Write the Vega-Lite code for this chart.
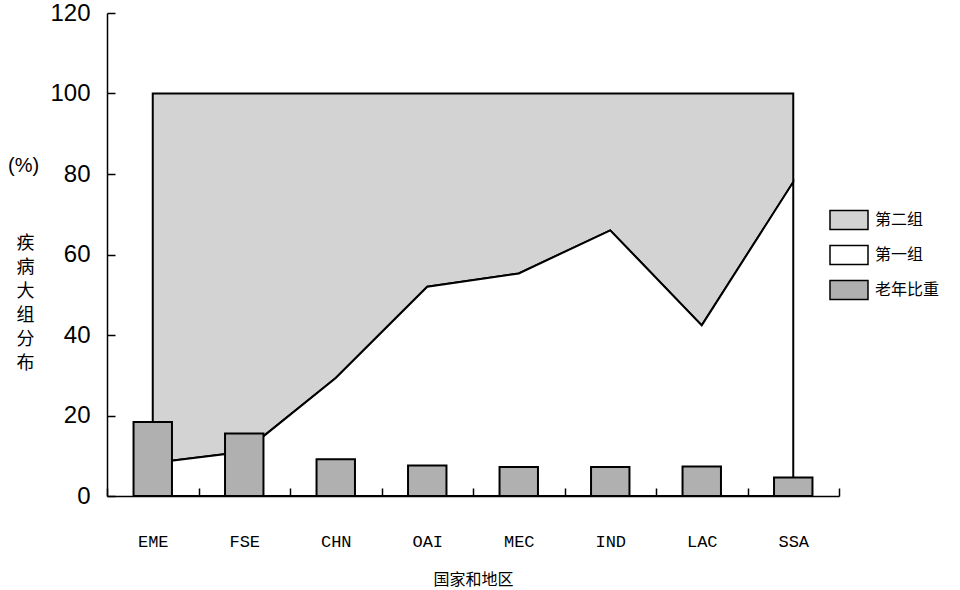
{
  "$schema": "https://vega.github.io/schema/vega-lite/v6.json",
  "width": 732,
  "height": 483,
  "autosize": {"type": "none"},
  "padding": {"left": 107, "top": 13, "right": 121, "bottom": 94},
  "background": "white",
  "title": {
    "text": "(%)",
    "anchor": "start",
    "frame": "group",
    "align": "left",
    "baseline": "alphabetic",
    "dx": -99,
    "dy": 195,
    "font": "Liberation Sans",
    "fontSize": 20,
    "fontWeight": "normal",
    "color": "black"
  },
  "config": {
    "view": {"stroke": null},
    "font": "Liberation Sans"
  },
  "data": {
    "values": [
      {"region": "EME", "old": 18.4, "g1": 8.2, "top": 100},
      {"region": "FSE", "old": 15.5, "g1": 11.0, "top": 100},
      {"region": "CHN", "old": 9.1, "g1": 29.3, "top": 100},
      {"region": "OAI", "old": 7.6, "g1": 52.0, "top": 100},
      {"region": "MEC", "old": 7.2, "g1": 55.3, "top": 100},
      {"region": "IND", "old": 7.2, "g1": 66.0, "top": 100},
      {"region": "LAC", "old": 7.3, "g1": 42.4, "top": 100},
      {"region": "SSA", "old": 4.6, "g1": 78.0, "top": 100}
    ]
  },
  "encoding": {
    "x": {
      "field": "region",
      "type": "nominal",
      "sort": null,
      "scale": {"type": "band", "paddingInner": 0, "paddingOuter": 0},
      "axis": {
        "title": "国家和地区",
        "titleFont": "Noto Sans CJK SC",
        "titleFontSize": 16,
        "titleFontWeight": "normal",
        "titleColor": "black",
        "titlePadding": 22,
        "labelAngle": 0,
        "labelFont": "Liberation Mono",
        "labelFontSize": 17,
        "labelColor": "black",
        "labelPadding": 45,
        "tickBand": "extent",
        "tickSize": -8,
        "tickColor": "black",
        "tickWidth": 1.5,
        "domainColor": "black",
        "domainWidth": 1.5,
        "grid": false,
        "zindex": 1
      }
    }
  },
  "layer": [
    {
      "mark": {"type": "area", "stroke": "black", "strokeWidth": 2, "opacity": 1, "fillOpacity": 1},
      "encoding": {
        "x": {"field": "region", "type": "nominal", "sort": null, "bandPosition": 0.5},
        "y": {
          "field": "g1",
          "type": "quantitative",
          "scale": {"domain": [0, 120]},
          "axis": {
            "values": [0, 20, 40, 60, 80, 100, 120],
            "title": ["疾", "病", "大", "组", "分", "布"],
            "titleFont": "Noto Sans CJK SC",
            "titleFontSize": 18,
            "titleFontWeight": "normal",
            "titleColor": "black",
            "titleAngle": 0,
            "titleAlign": "center",
            "titleBaseline": "top",
            "titleLineHeight": 24,
            "titleX": -82,
            "titleY": 221,
            "labelFontSize": 24,
            "labelColor": "black",
            "labelPadding": 25,
            "tickSize": -8,
            "tickColor": "black",
            "tickWidth": 1.5,
            "domainColor": "black",
            "domainWidth": 1.5,
            "grid": false,
            "zindex": 1
          }
        },
        "y2": {"field": "top"},
        "fill": {
          "datum": "第二组",
          "type": "nominal",
          "scale": {
            "domain": ["第二组", "第一组", "老年比重"],
            "range": ["#d3d3d3", "#ffffff", "#b0b0b0"]
          },
          "legend": {
            "title": null,
            "orient": "none",
            "legendX": 722,
            "legendY": 187,
            "padding": 0,
            "symbolType": "M-1,-0.5H1V0.5H-1Z",
            "symbolSize": 1444,
            "symbolStrokeColor": "black",
            "symbolStrokeWidth": 1.5,
            "symbolOpacity": 1,
            "rowPadding": 2,
            "labelOffset": 6,
            "labelFont": "Noto Sans CJK SC",
            "labelFontSize": 16,
            "labelColor": "black"
          }
        }
      }
    },
    {
      "mark": {"type": "area", "stroke": "black", "strokeWidth": 2, "opacity": 1, "fillOpacity": 1},
      "encoding": {
        "x": {"field": "region", "type": "nominal", "sort": null, "bandPosition": 0.5},
        "y": {"field": "g1", "type": "quantitative"},
        "y2": {"datum": 0},
        "fill": {"datum": "第一组", "type": "nominal"}
      }
    },
    {
      "mark": {"type": "bar", "stroke": "black", "strokeWidth": 2, "width": {"band": 0.42}, "opacity": 1},
      "encoding": {
        "y": {"field": "old", "type": "quantitative"},
        "fill": {"datum": "老年比重", "type": "nominal"}
      }
    }
  ],
  "resolve": {"scale": {"fill": "shared"}}
}
